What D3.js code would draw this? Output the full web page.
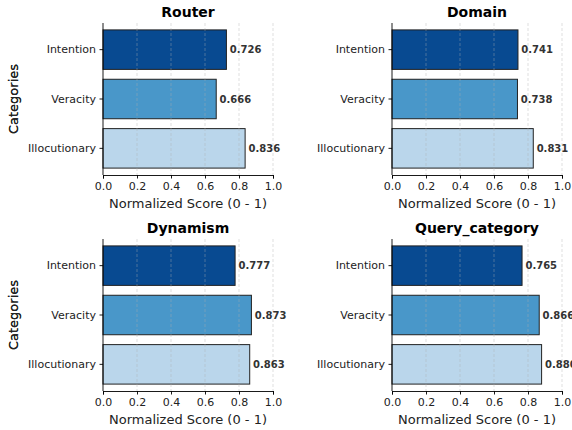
<!DOCTYPE html>
<html>
<head>
<meta charset="utf-8">
<script src="https://cdn.jsdelivr.net/npm/d3@7"></script>
<style>
  html, body { margin: 0; padding: 0; background: #fff; }
  svg { display: block; font-family: "DejaVu Sans", sans-serif; }
</style>
</head>
<body>
<svg id="chart" width="572" height="430"></svg>
<script>
// Categories, top to bottom
const categories = ["Intention", "Veracity", "Illocutionary"];
const categoryColors = ["#084a91", "#4997c9", "#bad6eb"];

// One panel per task
const panelTitles = ["Router", "Domain", "Dynamism", "Query_category"];
const routerScores = [0.726, 0.666, 0.836];
const domainScores = [0.741, 0.738, 0.831];
const dynamismScores = [0.777, 0.873, 0.863];
const queryCategoryScores = [0.765, 0.866, 0.880];
const panelScores = [routerScores, domainScores, dynamismScores, queryCategoryScores];

const xTicks = [0, 0.2, 0.4, 0.6, 0.8, 1.0];

const svg = d3.select("#chart");
const panelW = 170, panelH = 152;
const panelOrigins = [[103, 23], [392, 23], [103, 239], [392, 239]];

panelTitles.forEach((title, i) => {
  const [ox, oy] = panelOrigins[i];
  const scores = panelScores[i];
  const g = svg.append("g").attr("transform", `translate(${ox},${oy})`);

  const x = d3.scaleLinear().domain([0, 1]).range([0, panelW]);
  const y = d3.scaleBand().domain(categories).range([0, panelH])
    .paddingInner(0.2).paddingOuter(0.14);

  // bars
  g.selectAll("rect.bar").data(categories).join("rect")
    .attr("class", "bar")
    .attr("x", x(0))
    .attr("y", d => y(d))
    .attr("width", (d, k) => x(scores[k]))
    .attr("height", y.bandwidth())
    .attr("fill", (d, k) => categoryColors[k])
    .attr("stroke", "#222")
    .attr("stroke-width", 1);

  // dashed vertical grid
  g.selectAll("line.grid").data(xTicks.slice(1)).join("line")
    .attr("class", "grid")
    .attr("x1", d => x(d)).attr("x2", d => x(d))
    .attr("y1", 0).attr("y2", panelH)
    .attr("stroke", "#b0b0b0")
    .attr("stroke-opacity", 0.5)
    .attr("stroke-width", 0.8)
    .attr("stroke-dasharray", "3,2");

  // value labels
  g.selectAll("text.val").data(categories).join("text")
    .attr("class", "val")
    .attr("x", (d, k) => x(scores[k] + 0.02))
    .attr("y", d => y(d) + y.bandwidth() / 2)
    .attr("dy", "0.35em")
    .attr("font-size", 10)
    .attr("font-weight", "bold")
    .attr("fill", "#333")
    .text((d, k) => scores[k].toFixed(3));

  // axes
  const xAxis = d3.axisBottom(x).tickValues(xTicks).tickFormat(d3.format(".1f"))
    .tickSize(3.5).tickPadding(3.5);
  const gx = g.append("g").attr("transform", `translate(0,${panelH})`).call(xAxis);
  gx.select(".domain").attr("stroke", "#000").attr("stroke-width", 0.9);
  gx.selectAll(".tick line").attr("stroke", "#000").attr("stroke-width", 0.9);
  gx.selectAll(".tick text").attr("font-size", 11).attr("fill", "#222")
    .attr("font-family", "DejaVu Sans");

  const yAxis = d3.axisLeft(y).tickSize(3.5).tickPadding(3.5);
  const gy = g.append("g").call(yAxis);
  gy.select(".domain").attr("stroke", "#000").attr("stroke-width", 0.9)
    .attr("d", `M0,0V${panelH}`);
  gy.selectAll(".tick line").attr("stroke", "#000").attr("stroke-width", 0.9);
  gy.selectAll(".tick text").attr("font-size", 11).attr("fill", "#222")
    .attr("font-family", "DejaVu Sans");

  // title
  g.append("text")
    .attr("x", panelW / 2).attr("y", -6)
    .attr("text-anchor", "middle")
    .attr("font-size", 14).attr("font-weight", "bold")
    .attr("fill", "#000")
    .text(title);

  // axis labels
  g.append("text")
    .attr("x", panelW / 2).attr("y", panelH + 33)
    .attr("text-anchor", "middle")
    .attr("font-size", 13).attr("fill", "#222")
    .text("Normalized Score (0 - 1)");

  g.append("text")
    .attr("transform", `translate(${-ox + 18 + (i % 2) * 0},${panelH / 2}) rotate(-90)`)
    .attr("x", 0).attr("y", 0)
    .attr("text-anchor", "middle")
    .attr("font-size", 13).attr("fill", "#222")
    .text("Categories");
});
</script>
</body>
</html>
